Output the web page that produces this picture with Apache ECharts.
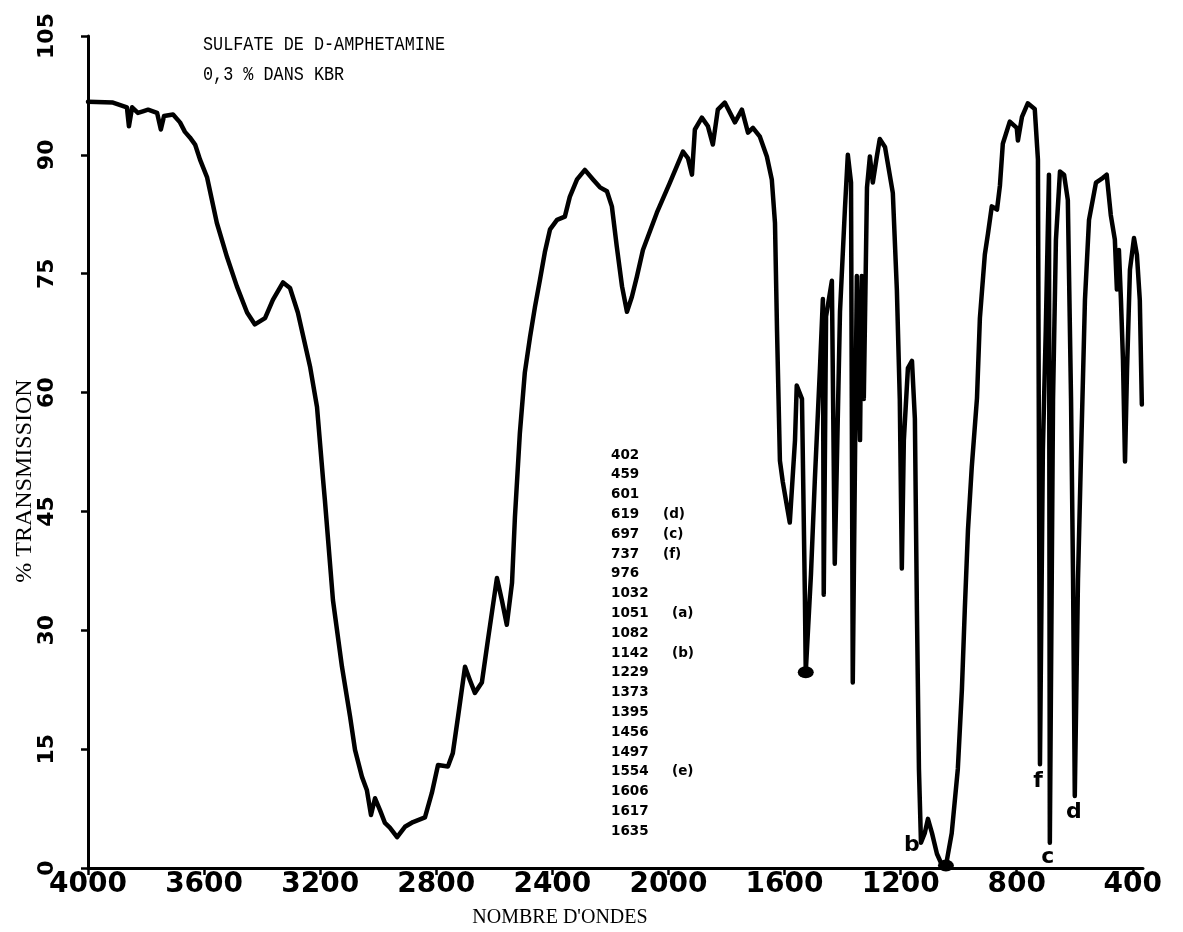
<!DOCTYPE html>
<html>
<head>
<meta charset="utf-8">
<script src="https://cdn.jsdelivr.net/npm/echarts@6/dist/echarts.min.js"></script>
<style>
html, body { margin: 0; padding: 0; background: #fff; }
#chart { width: 1183px; height: 932px; }
</style>
</head>
<body>
<div id="chart"></div>
<script>
const wavenumbers = [
  4000,3914,3866,3859,3848,3828,3811,3793,3762,3749,
  3738,3707,3683,3666,3649,3631,3614,3590,3556,3521,
  3487,3452,3425,3390,3363,3328,3304,3277,3235,3211,
  3190,3184,3156,3125,3097,3080,3056,3039,3025,3011,
  2994,2977,2960,2935,2908,2880,2839,2815,2794,2760,
  2743,2725,2701,2684,2667,2643,2622,2591,2574,2557,
  2539,2529,2512,2495,2477,2460,2443,2426,2408,2384,
  2357,2340,2315,2288,2260,2236,2212,2195,2178,2160,
  2143,2126,2109,2088,2040,1995,1950,1933,1919,1909,
  1885,1864,1847,1830,1806,1771,1747,1726,1709,1685,
  1661,1644,1633,1626,1616,1606,1582,1564,1558,1540,
  1530,1527,1509,1496,1478,1468,1465,1457,1437,1427,
  1409,1392,1382,1371,1365,1351,1340,1334,1327,1316,
  1306,1296,1282,1272,1254,1227,1213,1203,1196,1189,
  1175,1161,1151,1144,1137,1130,1117,1106,1092,1075,
  1058,1044,1024,1003,989,979,968,955,937,927,
  910,899,886,868,858,848,824,800,796,782,
  762,738,727,720,710,700,689,686,675,665,
  651,637,624,613,606,600,589,579,565,551,
  527,503,490,476,462,455,448,441,434,427,
  420,410,396,386,376,369
];
const transmission = [
  96.7,96.6,96.0,93.6,96.0,95.3,95.5,95.7,95.3,93.2,
  94.9,95.1,94.1,92.9,92.2,91.3,89.4,87.2,81.4,77.1,
  73.4,70.1,68.6,69.4,71.7,73.9,73.2,70.1,63.3,58.2,
  49.0,46.5,33.8,25.4,19.1,14.9,11.5,9.8,6.7,8.8,
  7.3,5.7,5.1,3.9,5.2,5.8,6.4,9.5,13.0,12.8,
  14.5,19.1,25.4,23.7,22.1,23.4,28.8,36.6,33.8,30.7,
  36.0,44.3,54.9,62.5,67.0,70.8,74.2,77.7,80.6,81.8,
  82.2,84.7,86.9,88.1,86.9,85.9,85.4,83.5,78.4,73.4,
  70.2,72.1,74.6,78.0,82.7,86.5,90.4,89.6,87.5,93.2,
  94.7,93.6,91.3,95.7,96.6,94.1,95.7,92.8,93.4,92.3,
  89.8,86.9,81.4,67.9,51.4,48.7,43.6,54.0,60.9,59.2,
  34.5,24.7,37.1,48.7,63.1,71.8,34.5,69.6,74.1,38.4,
  70.2,83.2,90.0,86.5,23.4,74.7,54.0,74.7,59.2,85.9,
  89.8,86.5,89.8,92.0,91.0,85.2,72.9,59.2,37.8,54.0,
  63.1,64.0,56.7,32.6,12.5,3.2,4.4,6.2,4.4,1.8,
  0.4,0.3,4.4,12.5,22.5,32.6,42.7,50.6,59.3,69.4,
  77.4,80.1,83.5,83.1,86.1,91.4,94.2,93.4,91.8,94.8,
  96.5,95.8,89.4,13.1,52.8,67.9,87.5,3.2,59.1,79.3,
  87.9,87.5,84.3,59.3,36.6,9.1,36.4,51.5,71.7,81.8,
  86.5,87.1,87.5,82.4,79.3,73.0,78.0,71.7,64.1,51.3,
  62.9,75.5,79.5,77.4,71.7,58.5
];

// graduations de l'axe des nombres d'ondes
const xTicks = [4000, 3600, 3200, 2800, 2400, 2000, 1600, 1200, 800, 400];

// bandes reperees par une lettre sur la courbe
const letterNames = ['b', 'f', 'c', 'd'];
const letterWavenumbers = [1130, 720, 686, 600];
const letterTransmission = [3.2, 13.1, 3.2, 9.1];

// points noirs (e) et (a)
const dotWavenumbers = [1527, 1044];
const dotTransmission = [24.7, 0.3];

// liste des bandes imprimee au milieu
const peakNumbers = ['402','459','601','619','697','737','976','1032','1051','1082',
  '1142','1229','1373','1395','1456','1497','1554','1606','1617','1635'];
const peakTags = ['','','','(d)','(c)','(f)','','','(a)','',
  '(b)','','','','','','(e)','','',''];

const titleLines = ['SULFATE DE D-AMPHETAMINE', '0,3 % DANS KBR'];

let EC = echarts.init(document.getElementById('chart'));

const curve = wavenumbers.map((w, i) => [w, transmission[i]]);
const letterOffsets = { b: [-9, 3], f: [-2, 17], c: [-2, 15], d: [-1, 16] };
const letters = letterNames.map((name, i) => ({
    value: [letterWavenumbers[i], letterTransmission[i]],
    label: { formatter: name, offset: letterOffsets[name] }
}));
const dots = dotWavenumbers.map((w, i) => [w, dotTransmission[i]]);

let graphics = [];
titleLines.forEach((t, i) => {
    // caracteres de machine a ecrire : hauts et serres
    graphics.push({
        type: 'text', x: 203, y: 34 + i * 30, scaleX: 0.8,
        style: { text: t, fill: '#000', fontFamily: 'Liberation Mono', fontSize: 21 }
    });
});
peakNumbers.forEach((n, i) => {
    graphics.push({
        type: 'text', x: 611, y: 455 + i * 19.8,
        style: { text: n, fill: '#000', fontFamily: 'DejaVu Sans', fontWeight: 'bold', fontSize: 13.5, verticalAlign: 'middle' }
    });
    if (peakTags[i]) {
        graphics.push({
            type: 'text', x: n.length > 3 ? 672 : 663, y: 455 + i * 19.8,
            style: { text: peakTags[i], fill: '#000', fontFamily: 'DejaVu Sans', fontWeight: 'bold', fontSize: 13.5, verticalAlign: 'middle' }
        });
    }
});
// noms des axes
graphics.push({
    type: 'text', x: 560, y: 918,
    style: { text: "NOMBRE D'ONDES", fill: '#000', fontFamily: 'Liberation Serif', fontSize: 20, align: 'center', verticalAlign: 'middle' }
});
graphics.push({
    type: 'text', x: 25, y: 481, rotation: Math.PI / 2,
    style: { text: '% TRANSMISSION', fill: '#000', fontFamily: 'Liberation Serif', fontSize: 24, align: 'center', verticalAlign: 'middle' }
});

const option = {
    backgroundColor: '#fff',
    animation: false,
    grid: { left: 88, right: 40, top: 36, bottom: 64, outerBoundsMode: 'none' },
    xAxis: {
        type: 'value',
        inverse: true,
        min: 365,
        max: 4000,
        axisLine: { lineStyle: { color: '#000', width: 3 } },
        axisTick: { length: 7, customValues: xTicks, lineStyle: { color: '#000', width: 2.5 } },
        axisLabel: {
            customValues: xTicks,
            formatter: v => String(v),
            color: '#000', fontFamily: 'DejaVu Sans', fontWeight: 'bold', fontSize: 28, margin: 3
        },
        splitLine: { show: false }
    },
    yAxis: {
        type: 'value',
        min: 0,
        max: 105,
        interval: 15,
        axisLine: { show: true, lineStyle: { color: '#000', width: 3 } },
        axisTick: { show: true, length: 7, lineStyle: { color: '#000', width: 2.5 } },
        axisLabel: {
            rotate: 90, color: '#000', fontFamily: 'DejaVu Sans', fontWeight: 'bold', fontSize: 22, margin: 30,
            showMinLabel: true, showMaxLabel: true
        },
        splitLine: { show: false }
    },
    graphic: graphics,
    series: [{
        type: 'line',
        data: curve,
        clip: false,
        showSymbol: false,
        symbol: 'none',
        smooth: false,
        lineStyle: { color: '#000', width: 4.5, join: 'round', cap: 'round' }
    }, {
        type: 'scatter',
        data: dots,
        symbol: 'circle',
        symbolSize: [16, 12],
        clip: false,
        itemStyle: { color: '#000', opacity: 1 }
    }, {
        type: 'scatter',
        data: letters,
        symbolSize: 0,
        clip: false,
        itemStyle: { opacity: 1 },
        label: {
            show: true, position: 'inside', color: '#000',
            fontFamily: 'DejaVu Sans', fontWeight: 'bold', fontSize: 22
        }
    }]
};
EC.setOption(option);
</script>
</body>
</html>
